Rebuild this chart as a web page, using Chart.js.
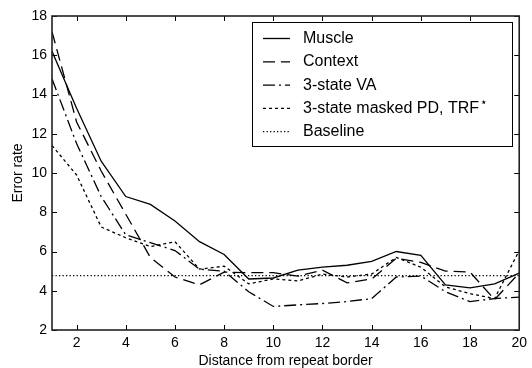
<!DOCTYPE html>
<html>
<head>
<meta charset="utf-8">
<script src="https://cdn.jsdelivr.net/npm/chart.js@4.4.0/dist/chart.umd.min.js"></script>
<style>
  html, body { margin: 0; padding: 0; background: #fff; }
  #contenedor { width: 532px; height: 368px; }
</style>
</head>
<body>
<div id="contenedor"><canvas id="grafico"></canvas></div>
<script>
// --- DATOS ---
const distancias = [1, 2, 3, 4, 5, 6, 7, 8, 9, 10, 11, 12, 13, 14, 15, 16, 17, 18, 19, 20];
const muscle   = [16.2, 13.3, 10.6, 8.8, 8.4, 7.55, 6.5, 5.85, 4.6, 4.65, 5.05, 5.2, 5.3, 5.5, 6.0, 5.8, 4.3, 4.15, 4.35, 4.9];
const context  = [17.2, 12.6, 10.1, 7.9, 5.7, 4.7, 4.3, 4.95, 4.92, 4.92, 4.75, 5.05, 4.4, 4.6, 5.65, 5.45, 5.0, 4.95, 3.55, 4.9];
const va3      = [14.8, 11.5, 8.8, 6.85, 6.45, 6.05, 5.1, 5.0, 3.95, 3.2, 3.28, 3.35, 3.45, 3.6, 4.7, 4.75, 3.95, 3.45, 3.6, 3.68];
const maskedPD = [11.4, 9.9, 7.25, 6.7, 6.25, 6.5, 5.1, 5.25, 4.35, 4.6, 4.5, 4.85, 4.7, 4.85, 5.7, 5.2, 4.2, 3.85, 3.6, 6.05];
const baseline = 4.77;
const xTicks = [2, 4, 6, 8, 10, 12, 14, 16, 18, 20];
const yTicks = [2, 4, 6, 8, 10, 12, 14, 16, 18];
const etiquetas = ['Muscle', 'Context', '3-state VA', '3-state masked PD, TRF\u22c6', 'Baseline'];

const FUENTE = "'Liberation Sans', Arial, sans-serif";

const puntos = serie => distancias.map((d, i) => ({ x: d, y: serie[i] }));

const estilos = [
    { dash: [] },
    { dash: [12, 6] },
    { dash: [12, 4, 2, 4] },
    { dash: [3, 3] },
    { dash: [1.3, 2.2] }
];

const series = [muscle, context, va3, maskedPD, distancias.map(() => baseline)];

// --- MARCO Y MARCAS HACIA DENTRO ---
const marcoYMarcas = {
    id: 'marcoYMarcas',
    afterDatasetsDraw(chart) {
        const { ctx, chartArea: a, scales: { x, y } } = chart;
        ctx.save();
        ctx.strokeStyle = '#000';
        ctx.lineWidth = 1;
        ctx.beginPath();
        xTicks.forEach(v => {
            const px = Math.round(x.getPixelForValue(v)) + 0.5;
            ctx.moveTo(px, a.bottom); ctx.lineTo(px, a.bottom - 5);
            ctx.moveTo(px, a.top); ctx.lineTo(px, a.top + 5);
        });
        yTicks.forEach(v => {
            const py = Math.round(y.getPixelForValue(v)) + 0.5;
            ctx.moveTo(a.left, py); ctx.lineTo(a.left + 5, py);
            ctx.moveTo(a.right, py); ctx.lineTo(a.right - 5, py);
        });
        ctx.stroke();
        ctx.lineWidth = 1.6;
        ctx.strokeStyle = '#222';
        ctx.strokeRect(a.left, a.top, a.right - a.left, a.bottom - a.top);
        ctx.restore();
    }
};

// --- LEYENDA CON RECUADRO ---
const leyenda = {
    id: 'leyenda',
    afterDraw(chart) {
        const ctx = chart.ctx;
        const caja = { x: 252.5, y: 22.5, w: 260, h: 124 };
        ctx.save();
        ctx.fillStyle = '#fff';
        ctx.fillRect(caja.x, caja.y, caja.w, caja.h);
        ctx.strokeStyle = '#000';
        ctx.lineWidth = 1;
        ctx.strokeRect(caja.x, caja.y, caja.w, caja.h);

        chart.data.datasets.forEach((ds, i) => {
            const yFila = 38.5 + i * 23.3;
            ctx.setLineDash(ds.borderDash || []);
            ctx.lineWidth = 1.3;
            ctx.strokeStyle = '#000';
            ctx.beginPath();
            ctx.moveTo(263, yFila);
            ctx.lineTo(290, yFila);
            ctx.stroke();
            ctx.setLineDash([]);

            const partes = ds.label.split('\u22c6');
            ctx.fillStyle = '#000';
            ctx.font = '16px ' + FUENTE;
            ctx.textBaseline = 'middle';
            ctx.fillText(partes[0], 303, yFila);
            if (partes.length > 1) {
                const ancho = ctx.measureText(partes[0]).width;
                ctx.font = '12px ' + FUENTE;
                ctx.fillText('\u22c6', 303 + ancho + 1, yFila - 6);
            }
        });
        ctx.restore();
    }
};

new Chart(document.getElementById('grafico').getContext('2d'), {
    type: 'line',
    data: {
        datasets: series.map((s, i) => ({
            label: etiquetas[i],
            data: puntos(s),
            borderColor: '#000',
            borderWidth: 1.3,
            borderDash: estilos[i].dash,
            pointRadius: 0,
            tension: 0,
            fill: false
        }))
    },
    options: {
        responsive: true,
        maintainAspectRatio: false,
        animation: false,
        devicePixelRatio: 1,
        layout: { padding: { top: 16, right: 11, left: 0, bottom: 0 } },
        plugins: { legend: { display: false }, tooltip: { enabled: false } },
        scales: {
            x: {
                type: 'linear',
                min: 1, max: 20,
                grid: { display: false, drawTicks: false, tickLength: 0 },
                border: { display: false },
                afterBuildTicks: s => { s.ticks = xTicks.map(v => ({ value: v })); },
                afterFit: s => { s.height = 38; },
                ticks: { color: '#000', font: { family: FUENTE, size: 14 }, padding: 5, maxRotation: 0, autoSkip: false },
                title: { display: true, text: 'Distance from repeat border', color: '#000', font: { family: FUENTE, size: 14, lineHeight: 1.0 }, padding: { top: 0, bottom: 0 } }
            },
            y: {
                min: 2, max: 18,
                grid: { display: false, drawTicks: false, tickLength: 0 },
                border: { display: false },
                afterBuildTicks: s => { s.ticks = yTicks.map(v => ({ value: v })); },
                afterFit: s => { s.width = 52; },
                ticks: { color: '#000', font: { family: FUENTE, size: 14 }, padding: 5 },
                title: { display: true, text: 'Error rate', color: '#000', font: { family: FUENTE, size: 14 }, padding: { top: 10, bottom: 0 } }
            }
        }
    },
    plugins: [marcoYMarcas, leyenda]
});
</script>
</body>
</html>
